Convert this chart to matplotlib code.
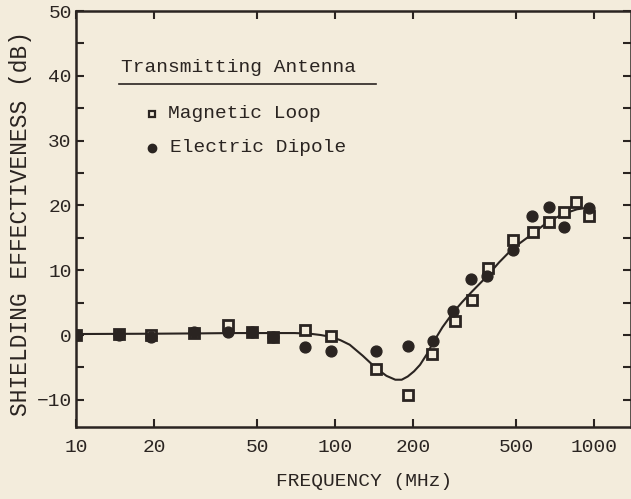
import numpy as np
import matplotlib
matplotlib.use("Agg")
import matplotlib.pyplot as plt
from matplotlib.ticker import FixedLocator, NullLocator, MultipleLocator

# ---- data ----
loop_freq = [10, 14.6, 19.4, 28.6, 38.5, 47.7, 57.7, 76.5, 96.3, 144, 191, 237, 290, 338, 389, 487, 583, 670, 765, 850, 959]
loop_se = [0.0, 0.15, 0.0, 0.3, 1.5, 0.4, -0.3, 0.8, -0.1, -5.3, -9.3, -2.9, 2.1, 5.4, 10.3, 14.7, 15.9, 17.5, 19.0, 20.6, 18.4]

dipole_freq = [10, 14.6, 19.4, 28.6, 38.5, 47.7, 57.7, 76.5, 96.3, 144, 191, 239, 285, 336, 385, 487, 575, 670, 765, 959]
dipole_se = [0.0, 0.0, -0.3, 0.5, 0.5, 0.5, -0.3, -1.9, -2.5, -2.4, -1.7, -0.9, 3.7, 8.7, 9.1, 13.1, 18.3, 19.8, 16.6, 19.6]

curve_freq = [10, 20, 30, 40, 50, 60, 70, 80, 88, 96.8, 105, 114, 128, 144, 158, 171, 181, 191, 202, 213, 226, 239,
              260, 285, 310, 338, 385, 430, 487, 583, 670, 776, 860, 930, 971]
curve_se = [0.15, 0.2, 0.25, 0.3, 0.3, 0.3, 0.3, 0.2, 0.0, -0.3, -0.8, -1.5, -3.2, -5.1, -6.3, -6.9, -6.9, -6.4, -5.6,
            -4.6, -3.0, -1.2, 1.2, 3.4, 5.1, 6.7, 9.0, 11.2, 13.4, 15.7, 17.6, 18.8, 19.4, 19.6, 19.5]

x_ticks = [10, 20, 50, 100, 200, 500, 1000]
x_tick_labels = ["10", "20", "50", "100", "200", "500", "1000"]
y_ticks = [-10, 0, 10, 20, 30, 40, 50]

legend_title = "Transmitting Antenna"
loop_label = "Magnetic Loop"
dipole_label = "Electric Dipole"

# ---- style ----
BG = "#f3ecdc"
INK = "#2a2421"
FONT = ["Liberation Mono", "DejaVu Sans Mono"]
FS = 14

W, H = 631, 499
fig = plt.figure(figsize=(W / 100, H / 100), dpi=100, facecolor=BG)
left, right, top, bottom = 76, 631, 11, 426.7
ax = fig.add_axes([left / W, (H - bottom) / H, (right - left) / W, (bottom - top) / H])
ax.set_facecolor(BG)

ax.set_xscale("log")
ax.set_xlim(10, 1390)
ax.set_ylim(-14.15, 50.0)

ax.plot(curve_freq, curve_se, color=INK, lw=1.5, zorder=2)
ax.plot(loop_freq, loop_se, linestyle="none", marker="s", ms=7, mfc=BG, mec=INK, mew=2.0, zorder=3)
ax.plot(dipole_freq, dipole_se, linestyle="none", marker="o", ms=7.8, mfc=INK, mec=INK, zorder=4)

for s in ax.spines.values():
    s.set_color(INK)
    s.set_linewidth(1.8)

ax.xaxis.set_major_locator(FixedLocator(x_ticks))
ax.xaxis.set_minor_locator(NullLocator())
ax.set_xticklabels(x_tick_labels)
ax.yaxis.set_major_locator(FixedLocator(y_ticks))
ax.yaxis.set_minor_locator(MultipleLocator(5))

ax.tick_params(which="both", direction="in", top=True, right=True, color=INK, width=1.5, length=6)
ax.tick_params(axis="x", pad=9, labelsize=FS, labelcolor=INK)
ax.tick_params(axis="y", pad=3, labelsize=FS, labelcolor=INK)
for lab in ax.get_xticklabels() + ax.get_yticklabels():
    lab.set_family(FONT)

# axis labels
fig.text(364 / W, 1 - 481 / H, "FREQUENCY (MHz)", ha="center", va="center",
         fontsize=FS, family=FONT, color=INK)
fig.text(21 / W, 1 - 224 / H, "SHIELDING EFFECTIVENESS (dB)", ha="center", va="center",
         rotation=90, fontsize=16.5, family=FONT, color=INK)

# legend (manual, in axes fraction)
def ax_xy(px, py):
    return ((px - left) / (right - left), (bottom - py) / (bottom - top))

tx, ty = ax_xy(121, 68)
ax.text(tx, ty, legend_title, transform=ax.transAxes, ha="left", va="center",
        fontsize=FS, family=FONT, color=INK)
ux0, uy = ax_xy(119, 84)
ux1, _ = ax_xy(376, 84)
ax.plot([ux0, ux1], [uy, uy], transform=ax.transAxes, color=INK, lw=1.2, clip_on=False)

mx, my = ax_xy(152, 114)
ax.plot([mx], [my], transform=ax.transAxes, marker="s", ms=5, mfc=BG, mec=INK, mew=1.6, linestyle="none")
lx, ly = ax_xy(168, 114)
ax.text(lx, ly, loop_label, transform=ax.transAxes, ha="left", va="center",
        fontsize=FS, family=FONT, color=INK)

mx, my = ax_xy(152, 148)
ax.plot([mx], [my], transform=ax.transAxes, marker="o", ms=6, mfc=INK, mec=INK, linestyle="none")
lx, ly = ax_xy(170, 148)
ax.text(lx, ly, dipole_label, transform=ax.transAxes, ha="left", va="center",
        fontsize=FS, family=FONT, color=INK)

fig.savefig("out.png", dpi=100, facecolor=BG)
